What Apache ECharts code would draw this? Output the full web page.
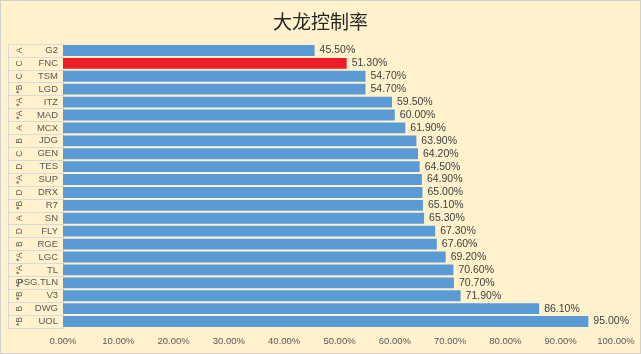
<!DOCTYPE html>
<html>
<head>
<meta charset="utf-8">
<script src="https://cdn.jsdelivr.net/npm/echarts@6/dist/echarts.min.js"></script>
<style>
html, body { margin: 0; padding: 0; background: #fff; }
#charts { width: 641px; height: 354px; box-sizing: border-box; border: 1px solid #d0d0d0; background: #FFF2CC; }
</style>
</head>
<body>
<div id="charts"></div>
<script>
// 大龙控制率 横向柱状图
var teams = ['G2', 'FNC', 'TSM', 'LGD', 'ITZ', 'MAD', 'MCX', 'JDG', 'GEN', 'TES', 'SUP',
    'DRX', 'R7', 'SN', 'FLY', 'RGE', 'LGC', 'TL', 'PSG.TLN', 'V3', 'DWG', 'UOL'];
var groups = ['A', 'C', 'C', '*B', '*A', '*A', 'A', 'B', 'C', 'D', '*A',
    'D', '*B', 'A', 'D', 'B', '*A', '*A', '*B', '*B', 'B', '*B'];
var rates = [45.5, 51.3, 54.7, 54.7, 59.5, 60.0, 61.9, 63.9, 64.2, 64.5, 64.9,
    65.0, 65.1, 65.3, 67.3, 67.6, 69.2, 70.6, 70.7, 71.9, 86.1, 95.0];
var xTicks = [0, 10, 20, 30, 40, 50, 60, 70, 80, 90, 100];
var highlight = 'FNC';

var myChart = echarts.init(document.getElementById('charts'));

myChart.setOption({
    animation: false,
    title: {
        text: '大龙控制率',
        left: 'center',
        top: 6,
        textStyle: {
            fontFamily: 'Noto Sans CJK SC',
            fontSize: 19,
            fontWeight: 'normal',
            color: '#262626'
        }
    },
    grid: {
        left: 62,
        right: 24,
        top: 43,
        bottom: 25
    },
    xAxis: {
        type: 'value',
        min: xTicks[0],
        max: xTicks[xTicks.length - 1],
        interval: 10,
        axisLine: { show: false },
        axisTick: { show: false },
        splitLine: { show: false },
        axisLabel: {
            color: '#595959',
            fontSize: 9.5,
            fontFamily: 'Liberation Sans',
            margin: 8,
            formatter: function (v) { return v.toFixed(2) + '%'; }
        }
    },
    yAxis: [
        {
            type: 'category',
            inverse: true,
            data: teams,
            axisLine: { show: true, lineStyle: { color: '#d9d9d9' } },
            axisTick: { show: true, interval: 0, length: 55, lineStyle: { color: '#d9d9d9' } },
            axisLabel: {
                interval: 0,
                color: '#595959',
                fontSize: 9.5,
                fontFamily: 'Liberation Sans',
                margin: 5
            }
        },
        {
            type: 'category',
            inverse: true,
            position: 'left',
            offset: 55,
            data: groups,
            axisLine: { show: true, lineStyle: { color: '#d9d9d9' } },
            axisTick: { show: false },
            axisLabel: {
                interval: 0,
                inside: true,
                rotate: 90,
                color: '#595959',
                fontSize: 8.5,
                fontFamily: 'Liberation Sans',
                margin: 7
            }
        }
    ],
    series: [
        {
            name: '大龙控制率',
            type: 'bar',
            barCategoryGap: '16%',
            data: rates.map(function (v, i) {
                return {
                    value: v,
                    itemStyle: { color: teams[i] === highlight ? '#EE1C25' : '#5B9BD5' }
                };
            }),
            label: {
                show: true,
                position: 'right',
                distance: 5,
                color: '#404040',
                fontSize: 10.5,
                fontFamily: 'Liberation Sans',
                formatter: function (p) { return p.value.toFixed(2) + '%'; }
            }
        }
    ]
});
</script>
</body>
</html>
